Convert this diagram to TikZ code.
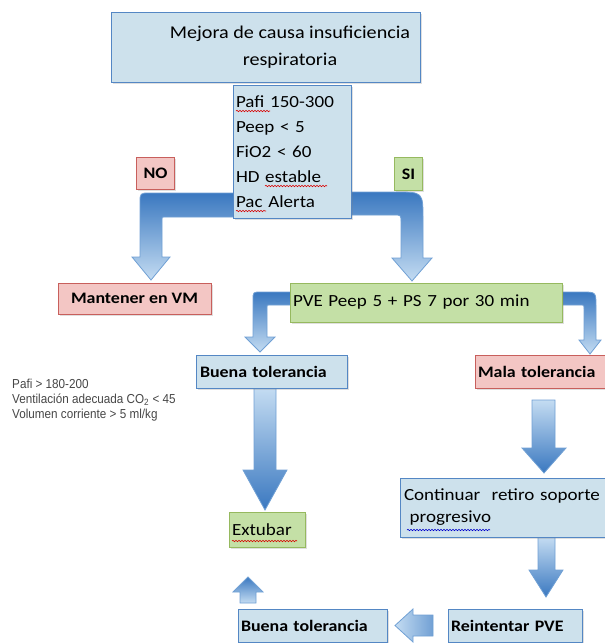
\documentclass[tikz,border=0pt]{standalone}
\usepackage{fontspec}
\setmainfont[FakeStretch=1.12]{Carlito}
\newfontfamily\condfont[FakeStretch=0.9]{Liberation Sans}
\usetikzlibrary{shadows,decorations.pathmorphing}
\definecolor{bfill}{RGB}{205,225,236}
\definecolor{bline}{RGB}{84,135,196}
\definecolor{pfill}{RGB}{243,198,196}
\definecolor{pline}{RGB}{200,95,92}
\definecolor{gfill}{RGB}{196,224,166}
\definecolor{gline}{RGB}{150,185,95}
\definecolor{adark}{RGB}{58,120,192}
\definecolor{alight}{RGB}{196,220,242}
\definecolor{aline}{RGB}{112,160,212}
\definecolor{tgray}{RGB}{70,70,70}
\tikzset{
  box/.style={draw, line width=1pt, inner sep=0pt, text=black,
    drop shadow={opacity=0.25, shadow xshift=1.5pt, shadow yshift=-1.5pt}},
  bbox/.style={box, draw=bline, fill=bfill},
  pbox/.style={box, draw=pline, fill=pfill},
  gbox/.style={box, draw=gline, fill=gfill},
  lab/.style={font=\bfseries\fontsize{16}{18}\selectfont},
  reg/.style={font=\fontsize{17}{20}\selectfont},
  arrup/.style={draw=aline, line width=0.8pt, top color=adark, bottom color=alight},
  arrdown/.style={draw=aline, line width=0.8pt, top color=alight, bottom color=adark},
  arrleft/.style={draw=aline, line width=0.8pt, left color=alight, right color=adark!60!alight},
  redwave/.style={draw=red!85!black, line width=0.6pt, decorate,
    decoration={snake, segment length=3pt, amplitude=0.7pt}},
  bluewave/.style={redwave, draw=blue!80!black}
}
\begin{document}
\begin{tikzpicture}[x=1pt,y=-1pt]
\useasboundingbox (0,0) rectangle (605,643);
% ---- block arrows
\path[arrup] (240,193) -- (150,193) .. controls (140,193) .. (140,203) -- (140,257) -- (132,257) -- (151,280) -- (170,257) -- (162,257) -- (162,219) .. controls (162,217) .. (164,217) -- (240,217) -- cycle;
\path[arrup] (345,192) -- (396,192) .. controls (423,192) .. (423,219) -- (423,258) -- (432,258) -- (412,281) -- (392,258) -- (401,258) -- (401,222) .. controls (401,215) .. (394,215) -- (345,215) -- cycle;
\path[arrup] (295,292) -- (261,292) .. controls (253,292) .. (253,300) -- (253,337) -- (245,337) -- (260,352) -- (275,337) -- (267,337) -- (267,307) .. controls (267,305) .. (269,305) -- (295,305) -- cycle;
\path[arrup] (555,292) -- (582,292) .. controls (596,292) .. (596,306) -- (596,340) -- (601,340) -- (590,354) -- (579,340) -- (584,340) -- (584,309) .. controls (584,305) .. (580,305) -- (555,305) -- cycle;
\path[arrdown] (254,388) -- (276,388) -- (276,470) -- (287,470) -- (265,510) -- (243,470) -- (254,470) -- cycle;
\path[arrdown] (532,400) -- (555,400) -- (555,448) -- (566,448) -- (544,473) -- (522,448) -- (532,448) -- cycle;
\path[arrdown] (538,537) -- (555,537) -- (555,570) -- (563,570) -- (546,597) -- (529,570) -- (538,570) -- cycle;
\path[arrleft] (433,615) -- (433,636) -- (413,636) -- (413,642) -- (395,625.5) -- (413,609) -- (413,615) -- cycle;
\path[arrup] (240,603) -- (240,592) -- (233,592) -- (248,577) -- (263,592) -- (256,592) -- (256,603) -- cycle;
% ---- boxes
\node[bbox, minimum width=309pt, minimum height=70pt] (top) at (265.5,47) {};
\node[font=\fontsize{18}{27}\selectfont, align=center] (toptext) at (290,47) {Mejora de causa insuficiencia\\respiratoria};
\node[bbox, minimum width=118pt, minimum height=133pt, text width=112pt, inner xsep=3pt, align=left, font=\fontsize{17}{25}\selectfont] (cond) at (292,152) {Pafi 150-300\\Peep < 5\\FiO2 < 60\\HD estable\\Pac Alerta};
\node[pbox, lab, minimum width=38pt, minimum height=32pt] (no) at (155.5,173) {NO};
\node[gbox, lab, minimum width=28pt, minimum height=33pt] (si) at (408.5,174) {SI};
\node[pbox, lab, minimum width=153pt, minimum height=31pt] (mant) at (134.5,298.5) {Mantener en VM};
\node[gbox, reg, minimum width=272pt, minimum height=39pt, text width=266pt, inner xsep=3pt, align=left] (pve) at (426,302.5) {PVE Peep 5 + PS 7 por 30 min};
\node[bbox, lab, minimum width=151pt, minimum height=33pt, text width=143pt, inner xsep=4pt, align=left] (buena1) at (271.5,371.5) {Buena tolerancia};
\node[pbox, lab, minimum width=135pt, minimum height=33pt, text width=129pt, inner xsep=3pt, align=left] (mala) at (542.5,371.5) {Mala tolerancia};
\node[gbox, reg, minimum width=76pt, minimum height=35pt, text width=70pt, inner xsep=3pt, align=left] (extubar) at (267,529.5) {Extubar};
\node[bbox, minimum width=210pt, minimum height=59pt, text width=202pt, inner xsep=4pt, align=left, font=\fontsize{17}{22}\selectfont] (cont) at (505,507.5) {Continuar\ \ retiro soporte\\\ progresivo};
\node[bbox, lab, minimum width=134pt, minimum height=33pt, text width=128pt, inner xsep=3pt, align=left] (reint) at (515,625.5) {Reintentar PVE};
\node[bbox, lab, minimum width=149pt, minimum height=33pt, text width=143pt, inner xsep=3pt, align=left] (buena2) at (312.5,625.5) {Buena tolerancia};
\node[anchor=west, align=left, inner sep=0pt, text=tgray, font=\condfont\fontsize{13}{15}\selectfont] (crit) at (12,400) {Pafi > 180-200\\Ventilación adecuada CO\textsubscript{2} < 45\\Volumen corriente > 5 ml/kg};
% ---- spell-check underlines
\path[redwave] (236,111) -- (270,111);
\path[redwave] (265,186) -- (327,186);
\path[redwave] (236,211) -- (266,211);
\path[redwave] (232,541) -- (297,541);
\path[bluewave] (407,530) -- (490,530);
\end{tikzpicture}
\end{document}
